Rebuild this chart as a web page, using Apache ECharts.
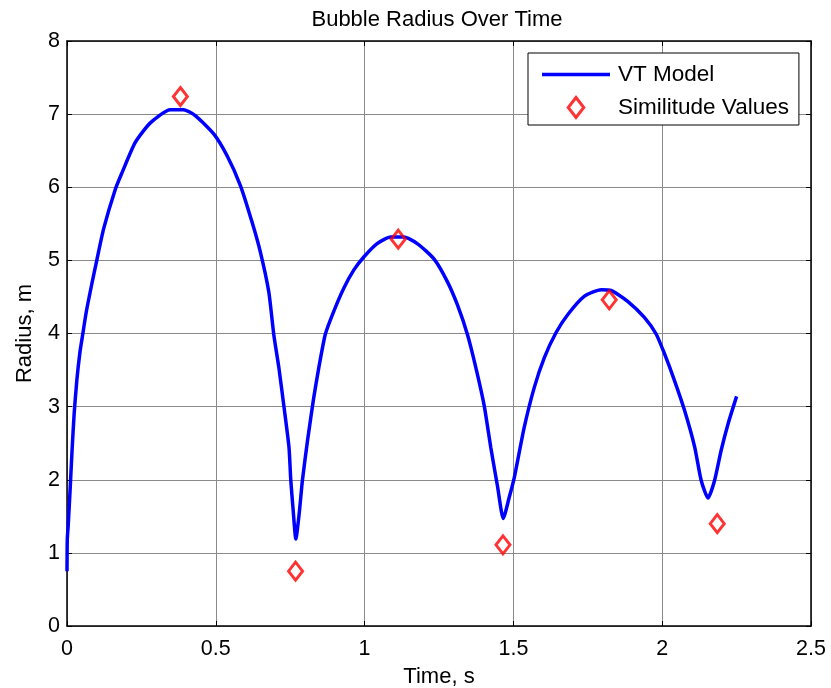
<!DOCTYPE html>
<html>
<head>
<meta charset="utf-8">
<script src="https://cdn.jsdelivr.net/npm/echarts@6/dist/echarts.min.js"></script>
<style>
html,body{margin:0;padding:0;background:#fff;}
#c{width:831px;height:688px;}
</style>
</head>
<body>
<div id="c"></div>
<script>
// VT Model curve (time s, radius m)
var modelTime = [0, 0.001, 0.004, 0.011, 0.017, 0.024, 0.033, 0.044, 0.051, 0.065, 0.083, 0.099, 0.123, 0.163, 0.185, 0.229, 0.280, 0.347, 0.392, 0.431, 0.493, 0.538, 0.583, 0.622, 0.650, 0.678, 0.695, 0.712, 0.729, 0.746, 0.752, 0.760, 0.769, 0.780, 0.791, 0.808, 0.829, 0.846, 0.868, 0.896, 0.930, 0.964, 0.998, 1.042, 1.088, 1.132, 1.177, 1.233, 1.278, 1.312, 1.346, 1.374, 1.402, 1.424, 1.447, 1.466, 1.486, 1.503, 1.536, 1.570, 1.604, 1.643, 1.683, 1.739, 1.795, 1.828, 1.884, 1.940, 1.980, 2.008, 2.041, 2.075, 2.109, 2.131, 2.154, 2.176, 2.198, 2.221, 2.250];
var modelRadius = [0.75, 1.19, 1.37, 1.91, 2.40, 2.90, 3.36, 3.76, 3.94, 4.30, 4.67, 4.98, 5.43, 5.98, 6.20, 6.61, 6.88, 7.06, 7.06, 6.98, 6.73, 6.43, 6.02, 5.52, 5.11, 4.57, 3.98, 3.53, 3.00, 2.44, 1.99, 1.58, 1.19, 1.53, 1.99, 2.53, 3.12, 3.53, 3.99, 4.30, 4.62, 4.87, 5.05, 5.23, 5.32, 5.32, 5.23, 5.02, 4.71, 4.39, 3.98, 3.53, 3.01, 2.44, 1.90, 1.47, 1.76, 2.03, 2.71, 3.26, 3.67, 4.01, 4.26, 4.51, 4.60, 4.59, 4.44, 4.22, 3.99, 3.72, 3.36, 2.95, 2.45, 1.99, 1.75, 1.99, 2.40, 2.76, 3.14];
// Similitude values
var simTime = [0.381, 0.768, 1.113, 1.465, 1.822, 2.185];
var simRadius = [7.24, 0.75, 5.29, 1.11, 4.46, 1.40];

var seriesNames = ['VT Model', 'Similitude Values'];
var titleText = 'Bubble Radius Over Time';
var xName = 'Time, s';
var yName = 'Radius, m';

var FONT = '"Liberation Sans", Arial, sans-serif';

var modelData = modelTime.map(function (t, i) { return [t, modelRadius[i]]; });
var simData = simTime.map(function (t, i) { return [t, simRadius[i]]; });

var chart = echarts.init(document.getElementById('c'), null, {renderer: 'canvas'});

function xAx(pos, showLabel) {
  return {
    type: 'value', position: pos, min: 0, max: 2.5, interval: 0.5,
    name: showLabel ? xName : '', nameLocation: 'middle', nameGap: 40,
    nameTextStyle: {fontFamily: FONT, fontSize: 22, color: '#000'},
    axisLine: {show: true, onZero: false, lineStyle: {color: '#000', width: 1.5}},
    axisTick: {show: true, inside: true, length: 5, lineStyle: {color: '#000', width: 1}},
    axisLabel: {show: showLabel, fontFamily: FONT, fontSize: 21.5, color: '#000', margin: 12},
    splitLine: {show: showLabel, lineStyle: {color: '#8a8a8a', width: 1}}
  };
}
function yAx(pos, showLabel) {
  return {
    type: 'value', position: pos, min: 0, max: 8, interval: 1,
    name: showLabel ? yName : '', nameLocation: 'middle', nameGap: 31,
    nameTextStyle: {fontFamily: FONT, fontSize: 22, color: '#000'},
    axisLine: {show: true, onZero: false, lineStyle: {color: '#000', width: 1.5}},
    axisTick: {show: true, inside: true, length: 5, lineStyle: {color: '#000', width: 1}},
    axisLabel: {show: showLabel, fontFamily: FONT, fontSize: 21.5, color: '#000', margin: 7},
    splitLine: {show: showLabel, lineStyle: {color: '#8a8a8a', width: 1}}
  };
}

chart.setOption({
  animation: false,
  backgroundColor: '#fff',
  title: {
    text: titleText, left: 432, top: 4, textAlign: 'center',
    textStyle: {fontFamily: FONT, fontSize: 22, fontWeight: 'normal', color: '#000'}
  },
  grid: {left: 67, right: 20, top: 41, bottom: 62, containLabel: false, outerBoundsMode: 'none'},
  xAxis: [xAx('bottom', true), xAx('top', false)],
  yAxis: [yAx('left', true), yAx('right', false)],
  legend: {
    orient: 'vertical', left: 528, top: 53,
    backgroundColor: '#fff', borderColor: '#000', borderWidth: 1,
    padding: [10, 10, 6, 14], itemGap: 10, itemWidth: 68, itemHeight: 20,
    textStyle: {fontFamily: FONT, fontSize: 22.5, color: '#000', padding: [0, 0, 0, 3]},
    data: [
      {name: seriesNames[0], icon: 'path://M0,0 L68,0 L68,3.5 L0,3.5 Z'},
      {name: seriesNames[1], icon: 'path://M7,0 L14,9 L7,18 L0,9 Z',
       itemStyle: {color: 'rgba(0,0,0,0)', borderColor: '#ff0000', borderWidth: 3}}
    ]
  },
  series: [
    {
      name: seriesNames[0], type: 'line', data: modelData,
      showSymbol: false, symbol: 'none', smooth: 0.2,
      lineStyle: {color: '#0000ff', width: 3.5}, itemStyle: {color: '#0000ff'},
      z: 3
    },
    {
      name: seriesNames[1], type: 'scatter', data: simData,
      symbol: 'diamond', symbolSize: [14, 18],
      itemStyle: {color: 'rgba(0,0,0,0)', borderColor: '#ff0000', borderWidth: 3},
      z: 4
    }
  ]
});
</script>
</body>
</html>
